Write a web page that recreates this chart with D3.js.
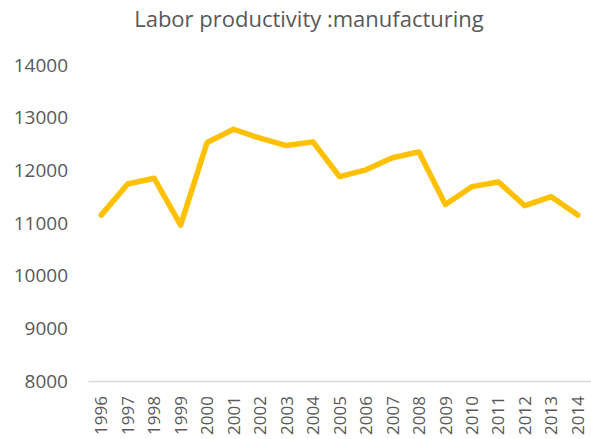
<!DOCTYPE html>
<html>
<head>
<meta charset="utf-8">
<script src="https://cdn.jsdelivr.net/npm/d3@7"></script>
<style>
  body { margin: 0; background: #fff; }
  text { font-family: "Open Sans", "Noto Sans", sans-serif; fill: #595959; }
</style>
</head>
<body>
<div id="chart"></div>
<script>
// data
const years = ["1996", "1997", "1998", "1999", "2000", "2001", "2002", "2003", "2004", "2005",
               "2006", "2007", "2008", "2009", "2010", "2011", "2012", "2013", "2014"];
const productivity = [11150, 11740, 11850, 10960, 12530, 12780, 12610, 12470, 12540, 11880,
                      12010, 12240, 12350, 11350, 11690, 11780, 11330, 11500, 11150];
const yTicks = [8000, 9000, 10000, 11000, 12000, 13000, 14000];
const chartTitle = "Labor productivity :manufacturing";

const W = 591, H = 439;
const margin = { top: 65, right: 0, bottom: 58, left: 88 };

const svg = d3.select("#chart").append("svg")
    .attr("width", W)
    .attr("height", H);

const x = d3.scaleBand()
    .domain(years)
    .range([margin.left, W - margin.right]);

const y = d3.scaleLinear()
    .domain([8000, 14000])
    .range([H - margin.bottom, margin.top]);

// title
svg.append("text")
    .attr("x", 309)
    .attr("y", 27)
    .attr("text-anchor", "middle")
    .style("font-size", "22px")
    .text(chartTitle);

// y axis labels, no line
const yAxis = svg.append("g")
    .attr("transform", `translate(${margin.left}, 0)`)
    .call(d3.axisLeft(y).tickValues(yTicks).tickSize(0).tickPadding(20).tickFormat(d3.format("d")));
yAxis.select(".domain").remove();
yAxis.selectAll("text")
    .style("font-size", "19px")
    .style("font-family", null)
    .attr("fill", null);

// x axis
const xAxis = svg.append("g")
    .attr("transform", `translate(0, ${y(8000)})`)
    .call(d3.axisBottom(x).tickSize(0).tickSizeOuter(0));
xAxis.select(".domain")
    .attr("stroke", "#d9d9d9")
    .attr("stroke-width", 1.5);
xAxis.selectAll("text")
    .style("font-size", "17px")
    .style("font-family", null)
    .attr("fill", null)
    .attr("text-anchor", "end")
    .attr("transform", "rotate(-90)")
    .attr("x", -15)
    .attr("y", 0)
    .attr("dy", "0.36em");

// line
const line = d3.line()
    .x((d, i) => x(years[i]) + x.bandwidth() / 2)
    .y(d => y(d));

svg.append("path")
    .datum(productivity)
    .attr("fill", "none")
    .attr("stroke", "#FFC000")
    .attr("stroke-width", 5.5)
    .attr("stroke-linejoin", "round")
    .attr("stroke-linecap", "round")
    .attr("d", line);
</script>
</body>
</html>
